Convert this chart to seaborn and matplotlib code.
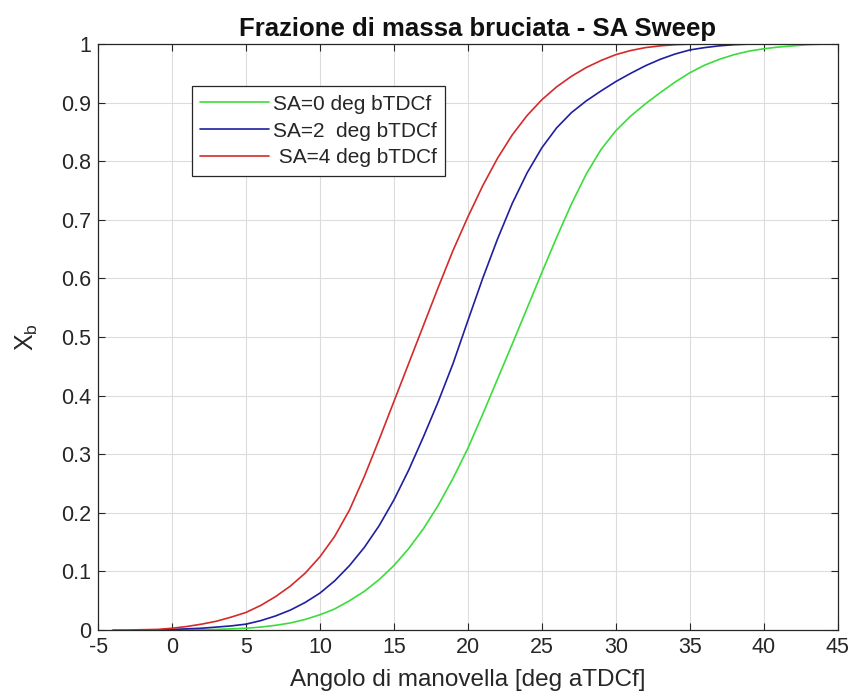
import numpy as np
import pandas as pd
import matplotlib
matplotlib.use('Agg')
import matplotlib.pyplot as plt
import seaborn as sns

# valori (angolo [deg aTDCf] -> Xb)
theta_sa0 = list(range(0, 46))
xb_sa0 = [0.0, 0.0, 0.0005, 0.001, 0.002, 0.003, 0.005, 0.008, 0.012, 0.018,
          0.026, 0.036, 0.05, 0.066, 0.086, 0.11, 0.139, 0.173, 0.213, 0.259,
          0.31, 0.368, 0.428, 0.488, 0.549, 0.61, 0.67, 0.727, 0.778, 0.82,
          0.852, 0.877, 0.898, 0.917, 0.935, 0.951, 0.964, 0.974, 0.982, 0.988,
          0.992, 0.995, 0.997, 0.999, 1.0, 1.0]

theta_sa2 = list(range(-2, 46))
xb_sa2 = [0.0, 0.0, 0.001, 0.002, 0.003, 0.005, 0.007, 0.01, 0.016, 0.024,
          0.034, 0.047, 0.063, 0.084, 0.11, 0.141, 0.178, 0.222, 0.273, 0.33,
          0.39, 0.455, 0.528, 0.6, 0.667, 0.728, 0.78, 0.823, 0.857, 0.883,
          0.903, 0.92, 0.936, 0.95, 0.963, 0.974, 0.983, 0.99, 0.994, 0.997,
          0.999, 1.0, 1.0, 1.0, 1.0, 1.0, 1.0, 1.0]

theta_sa4 = list(range(-4, 46))
xb_sa4 = [0.0, 0.0, 0.0005, 0.001, 0.003, 0.006, 0.01, 0.015, 0.022, 0.03,
          0.042, 0.057, 0.075, 0.097, 0.125, 0.16, 0.205, 0.262, 0.325, 0.39,
          0.455, 0.52, 0.585, 0.648, 0.705, 0.758, 0.805, 0.845, 0.878, 0.905,
          0.927, 0.945, 0.96, 0.972, 0.982, 0.989, 0.994, 0.997, 0.999, 1.0,
          1.0, 1.0, 1.0, 1.0, 1.0, 1.0, 1.0, 1.0, 1.0, 1.0]

labels = ['SA=0 deg bTDCf', 'SA=2  deg bTDCf', ' SA=4 deg bTDCf']
colori = ['#3bdc3b', '#1f1fa0', '#d42a2a']

df = pd.concat([
    pd.DataFrame({'theta': theta_sa0, 'xb': xb_sa0, 'sa': labels[0]}),
    pd.DataFrame({'theta': theta_sa2, 'xb': xb_sa2, 'sa': labels[1]}),
    pd.DataFrame({'theta': theta_sa4, 'xb': xb_sa4, 'sa': labels[2]}),
])

sns.set_style('whitegrid')
plt.rcParams['font.family'] = ['Liberation Sans', 'DejaVu Sans']
plt.rcParams['mathtext.fontset'] = 'custom'
plt.rcParams['mathtext.rm'] = 'Liberation Sans'
plt.rcParams['mathtext.it'] = 'Liberation Sans'

fig = plt.figure(figsize=(8.53, 7.0), dpi=100)
ax = fig.add_axes([0.115, 0.1, 0.867, 0.837])

sns.lineplot(data=df, x='theta', y='xb', hue='sa', palette=colori,
             linewidth=1.2, ax=ax, estimator=None, sort=False)

ax.set_xlim(-5, 45)
ax.set_ylim(0, 1)
ax.set_xticks(np.arange(-5, 46, 5))
ax.set_yticks(np.arange(0, 1.01, 0.1))
ax.set_xticklabels([str(v) for v in range(-5, 46, 5)])
ax.set_yticklabels(['0'] + ['%.1f' % v for v in np.arange(0.1, 0.95, 0.1)] + ['1'])
ax.tick_params(direction='in', length=5, width=0.8, color='#262626',
               labelsize=15.5, top=True, right=True, bottom=True, left=True,
               labelcolor='#262626', pad=5)
ax.grid(True, color='#dcdcdc', linewidth=0.8)
for s in ax.spines.values():
    s.set_color('#262626')
    s.set_linewidth(0.9)

ax.set_title('Frazione di massa bruciata - SA Sweep', fontsize=18.5,
             fontweight='bold', color='#111111', pad=6, x=0.513)
ax.set_xlabel('Angolo di manovella [deg aTDCf]', fontsize=17.5, color='#262626',
              labelpad=8)
ax.set_ylabel(r'X$_\mathrm{b}$', fontsize=18, color='#262626', labelpad=15)

leg = ax.legend(loc='upper left', bbox_to_anchor=(0.127, 0.928), fontsize=15,
                frameon=True, fancybox=False, edgecolor='#262626',
                handlelength=3.3, borderpad=0.4, labelspacing=0.38,
                handletextpad=0.2, borderaxespad=0, framealpha=1)
leg.get_frame().set_linewidth(0.9)

fig.savefig('out.png', dpi=100)
